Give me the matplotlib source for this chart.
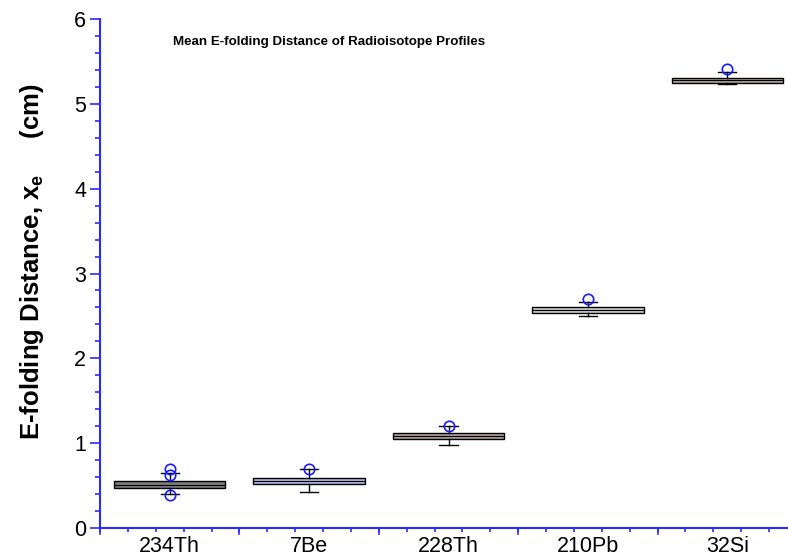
import matplotlib
matplotlib.use("Agg")
import matplotlib.pyplot as plt
from matplotlib.ticker import MultipleLocator, FixedLocator

plt.rcParams['font.family'] = ['Liberation Sans', 'DejaVu Sans']
plt.rcParams['mathtext.fontset'] = 'custom'
plt.rcParams['mathtext.bf'] = 'Liberation Sans:bold'
plt.rcParams['mathtext.rm'] = 'Liberation Sans:bold'

# ---------- data ----------
isotopes = ["234Th", "7Be", "228Th", "210Pb", "32Si"]
q1 = [0.47, 0.52, 1.05, 2.54, 5.25]
median = [0.51, 0.555, 1.085, 2.575, 5.28]
q3 = [0.55, 0.59, 1.12, 2.61, 5.31]
whisker_lo = [0.40, 0.42, 0.98, 2.50, 5.23]
whisker_hi = [0.645, 0.70, 1.20, 2.665, 5.37]
outliers = [[0.69, 0.62, 0.39], [0.70], [1.20], [2.70], [5.41]]
box_colors = ["#7c7c7c", "#b4b4e2", "#ac9c9c", "#cbcbcb", "#aca094"]

stats = []
for i, name in enumerate(isotopes):
    stats.append(dict(label=name, med=median[i], q1=q1[i], q3=q3[i],
                      whislo=whisker_lo[i], whishi=whisker_hi[i],
                      fliers=outliers[i]))

fig = plt.figure(figsize=(7.88, 5.6), dpi=100)
ax = fig.add_axes([100 / 788, 32 / 560, 697 / 788, 509 / 560])

pos = list(range(1, len(isotopes) + 1))
bp = ax.bxp(stats, positions=pos, widths=0.8, patch_artist=True,
            capwidths=0.13,
            boxprops=dict(edgecolor="black", linewidth=1.0),
            medianprops=dict(color="black", linewidth=0.8),
            whiskerprops=dict(color="black", linewidth=1.0),
            capprops=dict(color="black", linewidth=1.0),
            flierprops=dict(marker="o", markerfacecolor="none",
                            markeredgecolor="#1a1aff", markersize=7.5,
                            markeredgewidth=1.2))
for patch, c in zip(bp["boxes"], box_colors):
    patch.set_facecolor(c)

ax.set_xlim(0.5, 5.5)
ax.set_ylim(0, 6)
ax.xaxis.set_major_locator(FixedLocator(pos))
ax.set_xticks(pos, isotopes)
ax.set_xticks([0.5 + k * 0.2 for k in range(26)], minor=True)
ax.tick_params(axis="x", which="major", length=0, labelsize=15.5, pad=6)
ax.tick_params(axis="x", which="minor", length=3, width=1.2, color="#2a2aff",
               direction="out")
# category boundaries as longer ticks
for b in [0.5, 1.5, 2.5, 3.5, 4.5, 5.5]:
    ax.plot([b, b], [0, -0.07], color="#2a2aff", lw=1.2, clip_on=False)

ax.yaxis.set_major_locator(MultipleLocator(1))
ax.yaxis.set_minor_locator(MultipleLocator(0.2))
ax.tick_params(axis="y", which="major", length=7, width=1.2, color="#2a2aff",
               labelsize=15.5, pad=3)
ax.tick_params(axis="y", which="minor", length=3.5, width=1.2, color="#2a2aff")

for s in ["top", "right"]:
    ax.spines[s].set_visible(False)
for s in ["left", "bottom"]:
    ax.spines[s].set_color("#2a2aff")
    ax.spines[s].set_linewidth(1.5)

ax.set_ylabel(r"E-folding Distance, x$_{\mathbf{e}}$     (cm)", fontsize=18.5,
              fontweight="bold")
ax.yaxis.set_label_coords(-0.077, 0.523)
ax.text(0.105, 0.955, "Mean E-folding Distance of Radioisotope Profiles",
        transform=ax.transAxes, fontsize=9.6, fontweight="bold",
        ha="left", va="center")

fig.savefig("out.png", dpi=100)
